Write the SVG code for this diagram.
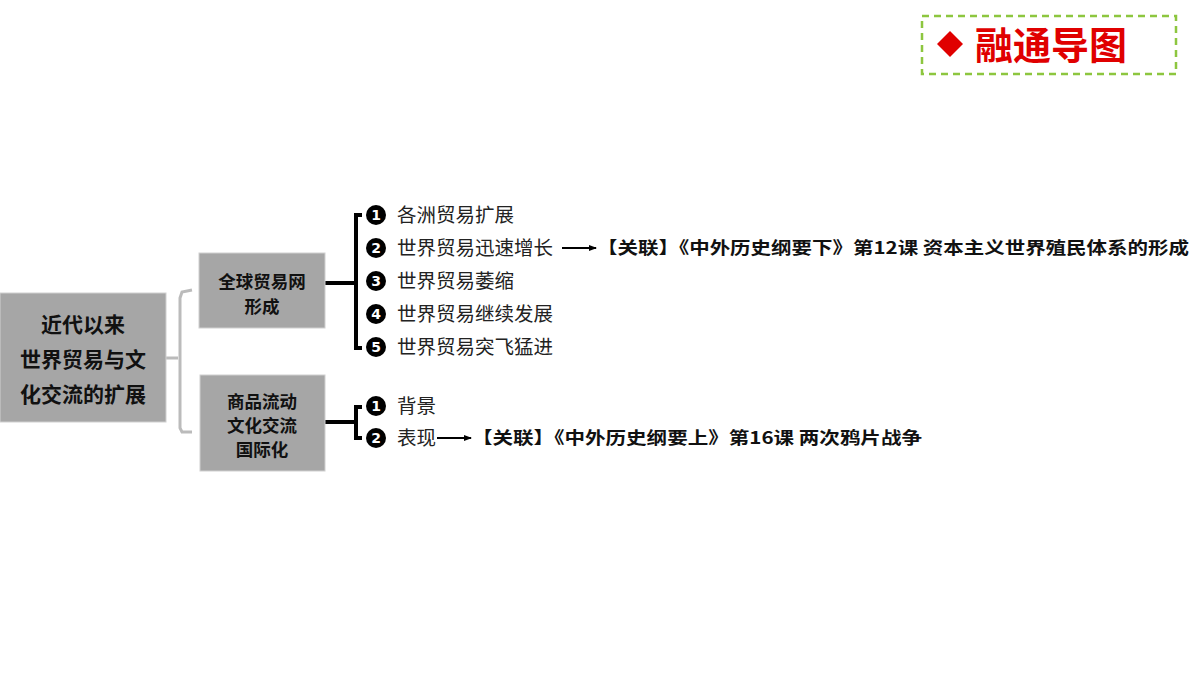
<svg xmlns="http://www.w3.org/2000/svg" width="1200" height="675" viewBox="0 0 1200 675">
<defs>
<style>
.box{fill:#a6a6a6;stroke:#d0d0d0;stroke-width:1}
.bt{font-family:"Noto Sans CJK SC",sans-serif;font-weight:bold;font-size:21px;fill:#111;text-anchor:middle}
.st{font-size:17.5px}
.it{font-family:"Noto Sans CJK SC",sans-serif;font-size:19.5px;fill:#222}
.rl{font-family:"Noto Sans CJK SC",sans-serif;font-weight:bold;font-size:17px;fill:#111}
.br{fill:none;stroke:#000;stroke-width:4}
.num{fill:#000}
.nt{font-family:"DejaVu Sans",sans-serif;font-weight:bold;font-size:14px;fill:#fff;text-anchor:middle}
</style>
<marker id="ah" markerWidth="8" markerHeight="8" refX="7" refY="4" orient="auto" markerUnits="userSpaceOnUse"><path d="M0,1 L8,4 L0,7 z" fill="#000"/></marker>
</defs>
<rect width="1200" height="675" fill="#fff"/>
<g id="title">
<rect x="922" y="16" width="254" height="58" fill="none" stroke="#8dc63f" stroke-width="2.5" stroke-dasharray="7,5"/>
<path d="M950,31 L963,44 L950,57 L937,44 z" fill="#e00000"/>
<text x="975" y="59" font-family="Noto Sans CJK SC,sans-serif" font-weight="bold" font-size="38" fill="#e00000">融通导图</text>
</g>
<g id="connectors">
<path d="M166,358 L178,358 M192,290 L182,292 L180,298 L180,428 L182,432 L192,432" fill="none" stroke="#bbb" stroke-width="3"/>
<path class="br" d="M325,283 L356,283 M362,215 L356,215 L356,348 L362,348"/>
<path class="br" d="M325,422 L356,422 M362,407 L356,407 L356,438 L362,438"/>
<line x1="562" y1="248" x2="596" y2="248" stroke="#000" stroke-width="2" marker-end="url(#ah)"/>
<line x1="437" y1="438" x2="471" y2="438" stroke="#000" stroke-width="2" marker-end="url(#ah)"/>
</g>
<g id="root"><rect class="box" x="0" y="293" width="166" height="129"/>
<text class="bt" x="83" y="332">近代以来</text><text class="bt" x="83" y="367">世界贸易与文</text><text class="bt" x="83" y="402">化交流的扩展</text></g>
<g id="n1"><rect class="box" x="199" y="253" width="126" height="75"/>
<text class="bt st" x="262" y="288">全球贸易网</text><text class="bt st" x="262" y="313">形成</text></g>
<g id="n2"><rect class="box" x="200" y="375" width="125" height="96"/>
<text class="bt st" x="262" y="408">商品流动</text><text class="bt st" x="262" y="432">文化交流</text><text class="bt st" x="262" y="456">国际化</text></g>
<g id="items">
<circle class="num" cx="376" cy="215" r="10"/><text class="nt" x="376" y="220">1</text><text class="it" x="397" y="222">各洲贸易扩展</text>
<circle class="num" cx="376" cy="248" r="10"/><text class="nt" x="376" y="253">2</text><text class="it" x="397" y="255">世界贸易迅速增长</text>
<circle class="num" cx="376" cy="281" r="10"/><text class="nt" x="376" y="286">3</text><text class="it" x="397" y="288">世界贸易萎缩</text>
<circle class="num" cx="376" cy="314" r="10"/><text class="nt" x="376" y="319">4</text><text class="it" x="397" y="321">世界贸易继续发展</text>
<circle class="num" cx="376" cy="347" r="10"/><text class="nt" x="376" y="352">5</text><text class="it" x="397" y="354">世界贸易突飞猛进</text>
<circle class="num" cx="376" cy="406" r="10"/><text class="nt" x="376" y="411">1</text><text class="it" x="397" y="413">背景</text>
<circle class="num" cx="376" cy="438" r="10"/><text class="nt" x="376" y="443">2</text><text class="it" x="397" y="445">表现</text>
<text class="rl" x="597" y="254" textLength="592" lengthAdjust="spacingAndGlyphs">【关联】《中外历史纲要下》第12课 资本主义世界殖民体系的形成</text>
<text class="rl" x="472" y="444" textLength="450" lengthAdjust="spacingAndGlyphs">【关联】《中外历史纲要上》第16课 两次鸦片战争</text>
</g>
</svg>
